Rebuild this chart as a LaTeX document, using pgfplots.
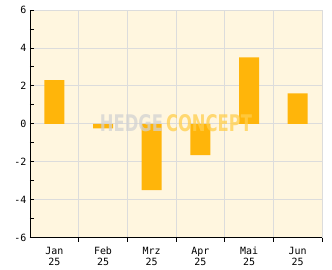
\documentclass[border=0pt]{standalone}
\usepackage{fontspec}
\setmainfont{DejaVu Sans}
\newfontfamily\monofont{DejaVu Sans Mono}
\newfontfamily\wmfont{DejaVu Sans Condensed Bold}
\usepackage{graphicx}
\usepackage{pgfplots}
\pgfplotsset{compat=1.18}
\definecolor{cream}{HTML}{FFF6DF}
\definecolor{barc}{HTML}{FFB50A}
\definecolor{gridc}{HTML}{DCDCDC}
\begin{document}
\begin{tikzpicture}
\begin{axis}[
  scale only axis,
  width=292bp, height=227.5bp,
  xmin=-0.5, xmax=5.5, ymin=-6, ymax=6,
  axis x line*=bottom, axis y line*=left,
  axis line style={black,-},
  axis background/.style={fill=cream},
  tick align=inside,
  xtick={0,1,2,3,4,5},
  xticklabels={{Jan\\25},{Feb\\25},{Mrz\\25},{Apr\\25},{Mai\\25},{Jun\\25}},
  x tick label style={font=\monofont\fontsize{10}{11}\selectfont, align=center, yshift=-2bp},
  major x tick style={draw=none},
  minor xtick={0.5,1.5,2.5,3.5,4.5,5.5},
  xminorgrids,
  minor x grid style={gridc, line width=0.8pt},
  ytick={-6,-4,-2,0,2,4,6},
  minor ytick={-5,-3,-1,1,3,5},
  ymajorgrids,
  major y grid style={gridc, line width=0.8pt},
  y tick label style={font=\monofont\fontsize{10}{11}\selectfont},
  /pgf/number format/assume math mode=true,
  major tick length=4bp, minor tick length=4bp,
  tick style={black, line width=0.8pt},
  ybar, bar width=20bp,
  clip=false,
]
\addplot[fill=barc, draw=none] coordinates {(0,2.3) (1,-0.25) (2,-3.5) (3,-1.65) (4,3.5) (5,1.6)};
\node[inner sep=0pt, text opacity=0.75] at (axis cs:2.5,0.05) {\resizebox{152bp}{17bp}{\wmfont\textcolor{gray!35}{HEDGE}\,\textcolor{orange!55!yellow!70}{CONCEPT}}};
\end{axis}
\pgfresetboundingbox
\path[use as bounding box] ([shift={(-30bp,-31.5bp)}]current axis.south west) rectangle ([shift={(10bp,10bp)}]current axis.north east);
\end{tikzpicture}
\end{document}
